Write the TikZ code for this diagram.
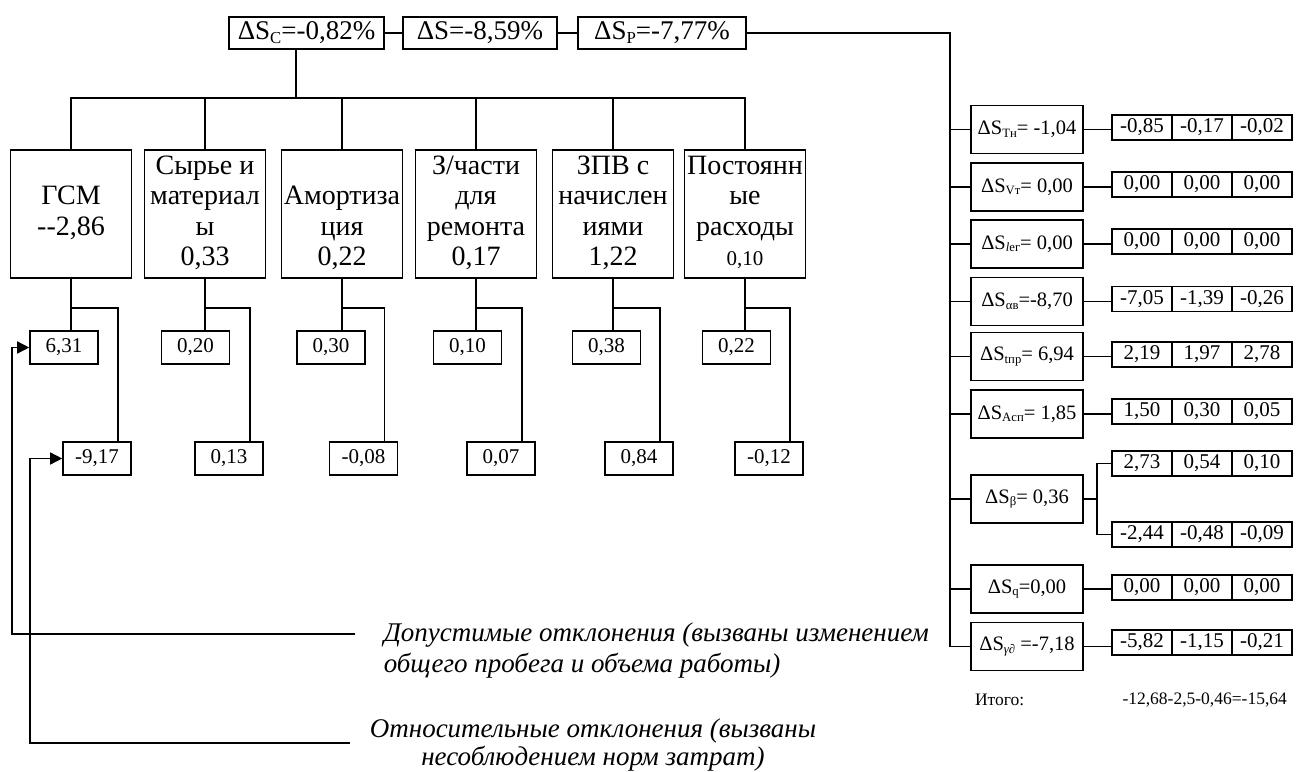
\documentclass[tikz,border=0pt]{standalone}
\usepackage{fontspec}
\setmainfont{Liberation Serif}
\usetikzlibrary{arrows.meta}
\newcommand\lo[1]{\raisebox{-0.12em}{\scalebox{0.62}{#1}}}
\newcommand\fs[2]{\fontsize{#1}{#2}\selectfont}
\newcommand\sline{\strut}
\begin{document}
\begin{tikzpicture}[x=1pt,y=-1pt,line width=1.5pt,
  box/.style={draw,line width=1.6pt,inner sep=0pt,align=center},
  topbox/.style={box,minimum height=32,font=\fs{27}{30}},
  bigbox/.style={box,minimum width=121,minimum height=128,font=\fs{28}{30.5}},
  smallbox/.style={box,minimum width=68,minimum height=33,font=\fs{21}{24}},
  rbox/.style={box,minimum width=112,minimum height=48,font=\fs{20.5}{24}},
  cell/.style={box,minimum width=60,minimum height=25,font=\fs{21}{24}},
  note/.style={font=\itshape},
  arr/.style={-{Triangle[length=12pt,width=12pt]}}
]
\useasboundingbox (0,0) rectangle (1297,771);

% top row
\node[topbox,minimum width=155] (sc) at (306.5,33) {ΔS\lo{C}=-0,82\%};
\node[topbox,minimum width=154] (s) at (480,33) {ΔS=-8,59\%};
\node[topbox,minimum width=168] (sp) at (662,33) {ΔS\lo{P}=-7,77\%};
\draw (sc.east) -- (s.west);
\draw (s.east) -- (sp.west);

% cost items
\node[bigbox] (b1) at (71,214) {\sline\\\sline ГСМ\\\sline\mbox{-}-2,86\\\sline};
\node[bigbox] (b2) at (205,214) {\sline Сырье и\\\sline материал\\\sline ы\\\sline 0,33};
\node[bigbox] (b3) at (342,214) {\sline\\\sline Амортиза\\\sline ция\\\sline 0,22};
\node[bigbox] (b4) at (476,214) {\sline З/части\\\sline для\\\sline ремонта\\\sline 0,17};
\node[bigbox] (b5) at (613,214) {\sline ЗПВ с\\\sline начислен\\\sline иями\\\sline 1,22};
\node[bigbox] (b6) at (745,214) {\sline Постоянн\\\sline ые\\\sline расходы\\\sline{\fs{21}{24}0,10}};

\coordinate (bus) at (296,98);
\draw ([xshift=-10.5pt]sc.south) -- (bus);
\draw (b1.north) |- (b6.north |- bus) -- (b6.north);
\foreach \i in {2,3,4,5} {\draw (b\i.north) -- (b\i.north |- bus);}

% lower values
\node[smallbox] (a1) at (64,347.5) {6,31};
\node[smallbox] (a2) at (195.5,347.5) {0,20};
\node[smallbox] (a3) at (331,347.5) {0,30};
\node[smallbox] (a4) at (467.5,347.5) {0,10};
\node[smallbox] (a5) at (606.5,347.5) {0,38};
\node[smallbox] (a6) at (736.5,347.5) {0,22};
\node[smallbox] (c1) at (97,458.5) {-9,17};
\node[smallbox] (c2) at (229,458.5) {0,13};
\node[smallbox] (c3) at (363.5,458.5) {-0,08};
\node[smallbox] (c4) at (501,458.5) {0,07};
\node[smallbox] (c5) at (639,458.5) {0,84};
\node[smallbox] (c6) at (769,458.5) {-0,12};
\foreach \i in {1,...,6} {
  \draw (b\i.south) -- (b\i.south |- a\i.north);
  \draw (b\i.south) ++(0,29) -| ([xshift=-14pt]c\i.north east);
}

% right column
\node[rbox] (tn) at (1027,129.5) {ΔS\lo{Tн}= -1,04};
\node[rbox] (vt) at (1027,187) {ΔS\lo{Vт}= 0,00};
\node[rbox] (lg) at (1027,244) {ΔS\lo{\textit{l}ег}= 0,00};
\node[rbox] (av) at (1027,301.5) {ΔS\lo{αв}=-8,70};
\node[rbox] (tp) at (1027,356.5) {ΔS\lo{tпр}= 6,94};
\node[rbox] (ac) at (1027,414) {ΔS\lo{Aсп}= 1,85};
\node[rbox] (be) at (1027,499) {ΔS\lo{β}= 0,36};
\node[rbox] (sq) at (1027,589) {ΔS\lo{q}=0,00};
\node[rbox] (gd) at (1027,646.5) {ΔS\lo{\textit{γ∂}} =-7,18};

\newcommand\trow[5]{%
  \node[cell] (#1a) at (1142,#2) {#3};
  \node[cell] (#1b) at (1202,#2) {#4};
  \node[cell] (#1c) at (1262,#2) {#5};}
\trow{ttn}{127.5}{-0,85}{-0,17}{-0,02}
\trow{tvt}{184.5}{0,00}{0,00}{0,00}
\trow{tlg}{241.5}{0,00}{0,00}{0,00}
\trow{tav}{299}{-7,05}{-1,39}{-0,26}
\trow{ttp}{354.5}{2,19}{1,97}{2,78}
\trow{tac}{411.5}{1,50}{0,30}{0,05}
\trow{tbu}{463.5}{2,73}{0,54}{0,10}
\trow{tbl}{534.5}{-2,44}{-0,48}{-0,09}
\trow{tsq}{587.5}{0,00}{0,00}{0,00}
\trow{tgd}{642.5}{-5,82}{-1,15}{-0,21}

\coordinate (vb) at (950,33);
\draw (sp.east) -- (vb) -- (vb |- gd.west) -- (gd.west);
\foreach \n in {tn,vt,lg,av,tp,ac,be,sq} {\draw (vb |- \n.west) -- (\n.west);}
\foreach \n in {tn,vt,lg,av,tp,ac,sq,gd} {\draw (\n.east) -- (\n.east -| t\n a.west);}
\draw (be.east) -- ++(13,0) coordinate (bj);
\draw (bj) |- (tbua.west);
\draw (bj) |- (tbla.west);

\node[anchor=west,font=\fs{17.5}{20}] (it) at (971,700) {Итого:};
\node[anchor=east,font=\fs{17.5}{20}] (itv) at (1291,700) {-12,68-2,5-0,46=-15,64};

% notes
\node[note,font=\fs{27}{31}\itshape,anchor=west,align=left,inner sep=0pt] (n1) at (383,650) {Допустимые отклонения (вызваны изменением\\общего пробега и объема работы)};
\node[note,font=\fs{27}{28}\itshape,anchor=center,align=center,inner sep=0pt] (n2) at (593,745) {Относительные отклонения (вызваны\\несоблюдением норм затрат)};
\coordinate (l1) at (355,634);
\coordinate (l2) at (350,743);
\draw[arr] (l1) -| ([xshift=-17pt]a1.west) -- (a1.west);
\draw[arr] (l2) -| ([xshift=-32pt]c1.west) -- (c1.west);
\end{tikzpicture}
\end{document}
